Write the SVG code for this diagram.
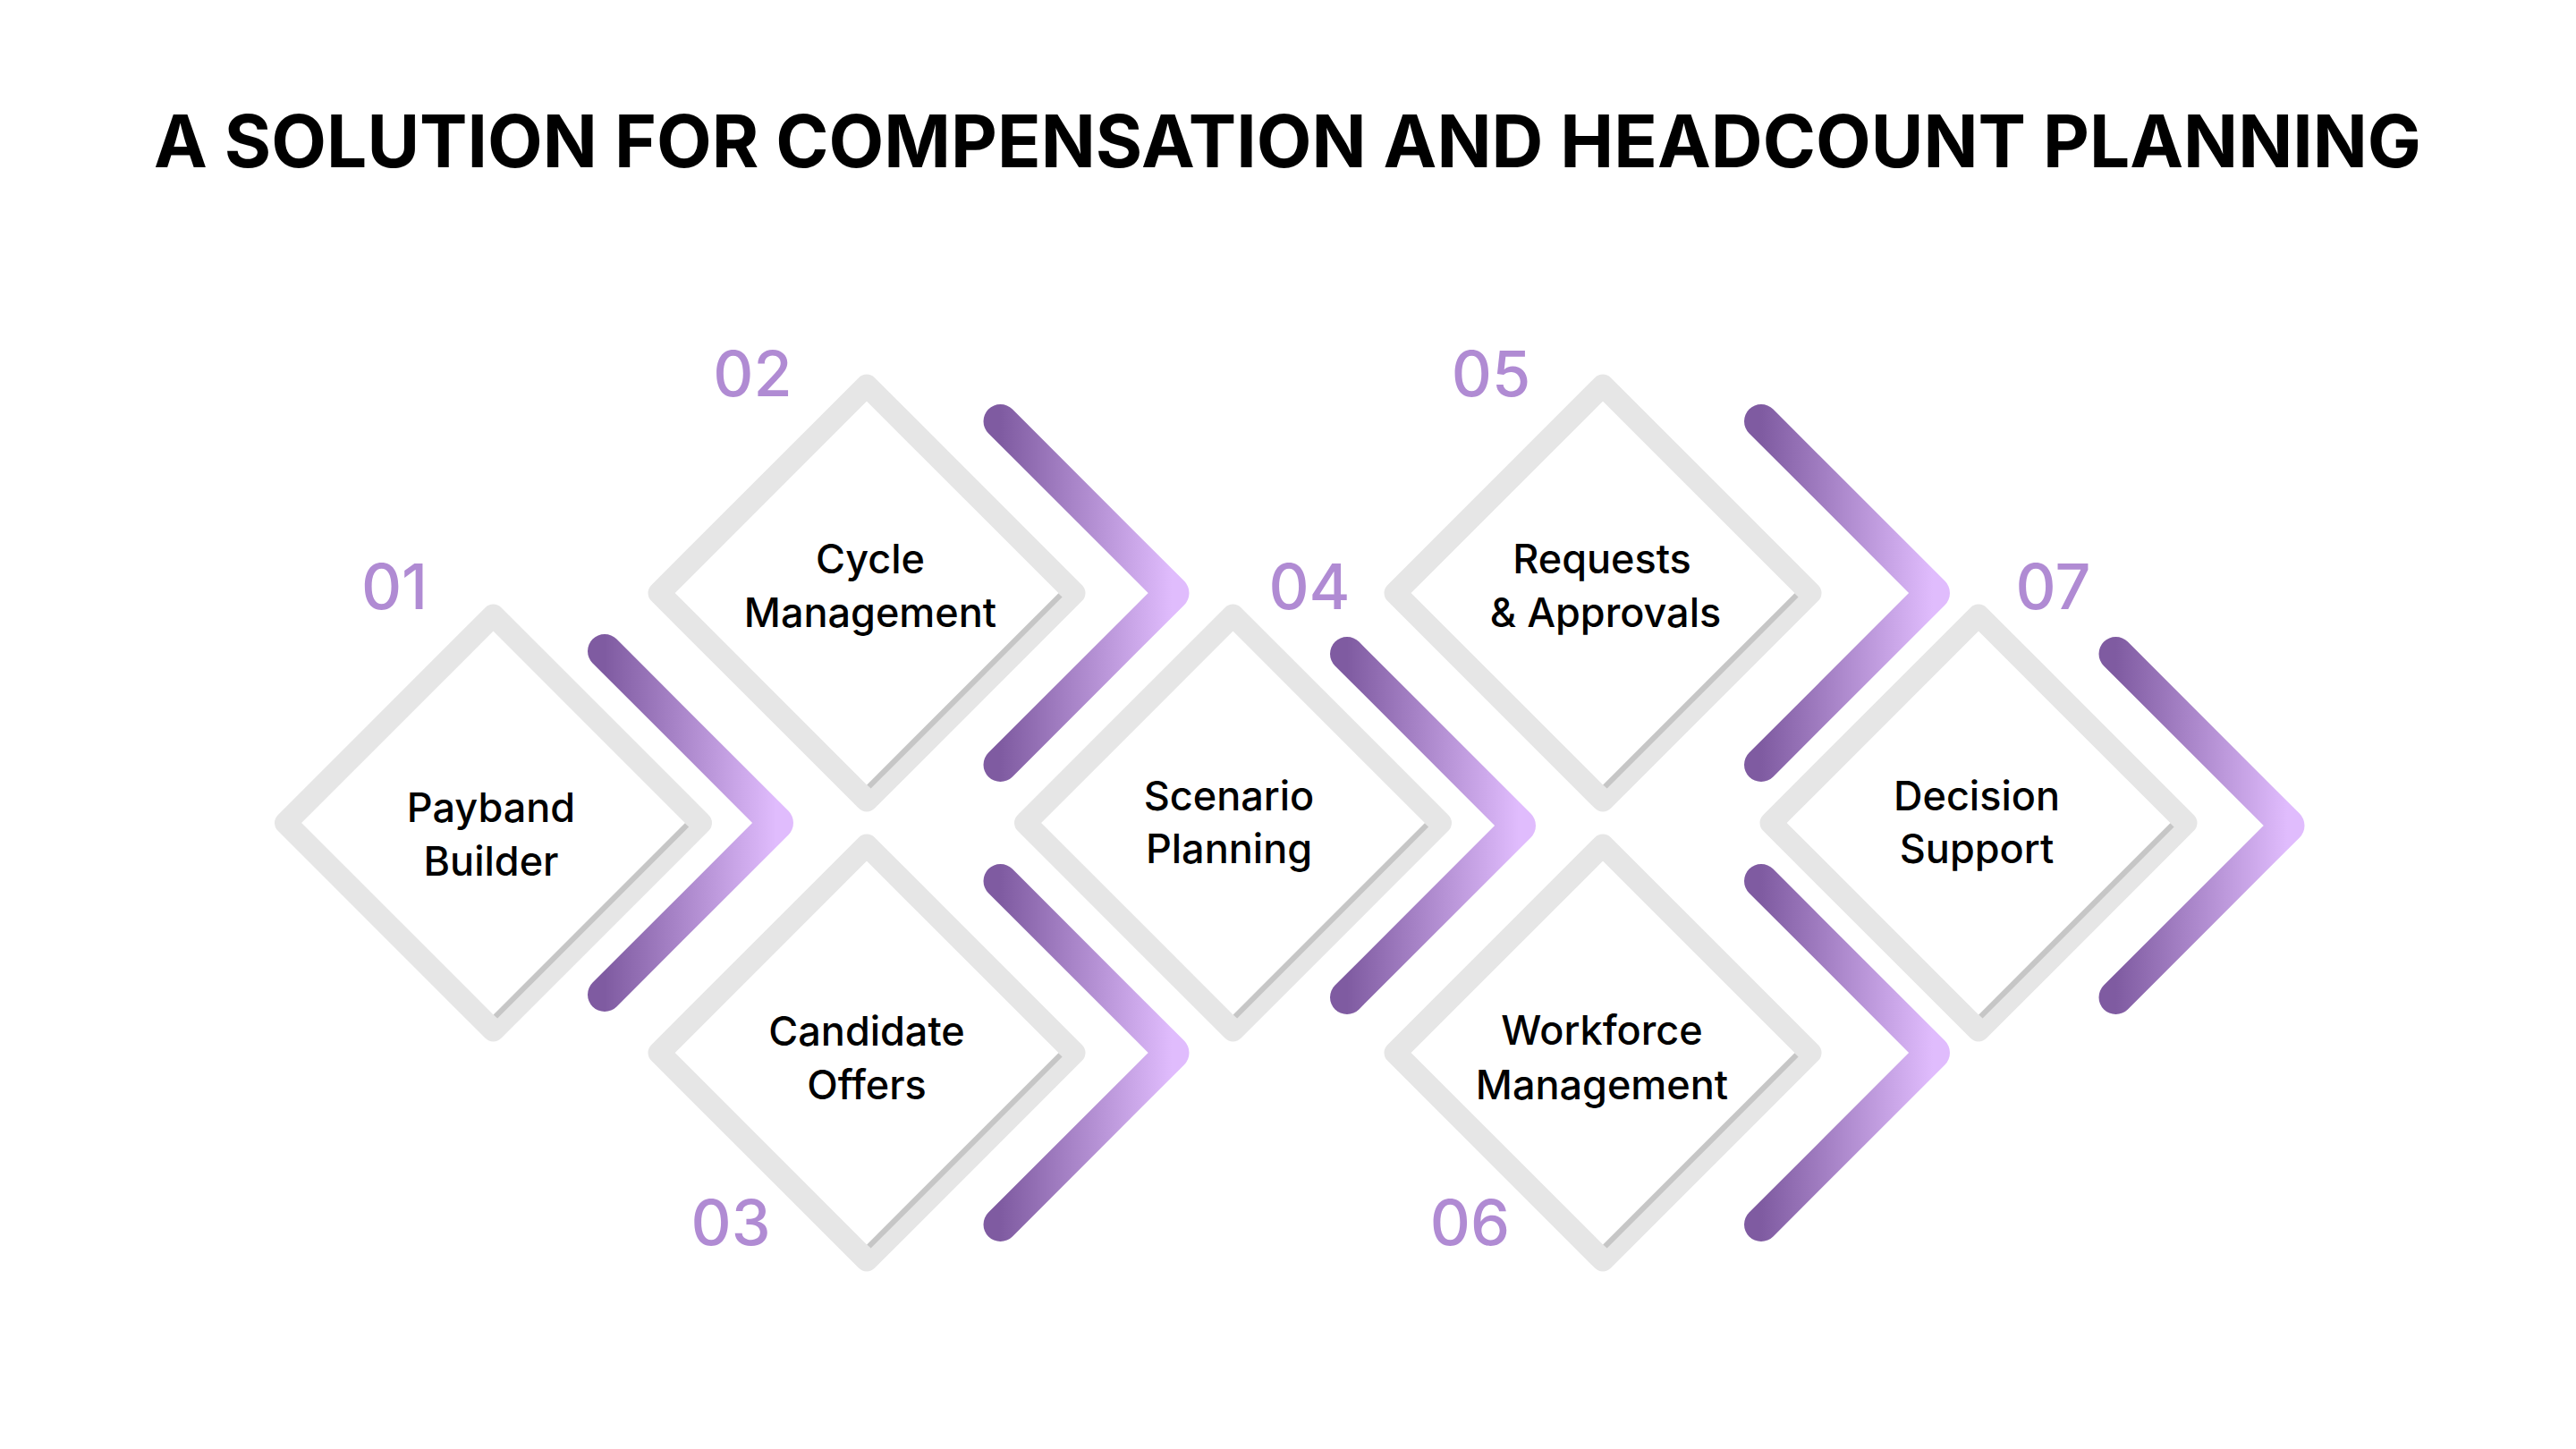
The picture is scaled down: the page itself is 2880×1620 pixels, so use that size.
<svg xmlns="http://www.w3.org/2000/svg" xmlns:xlink="http://www.w3.org/1999/xlink" width="2880" height="1620" viewBox="0 0 2880 1620">
  <defs>
    <style>
      .title { font-family: Inter, "Liberation Sans", sans-serif; font-weight: 700; font-size: 81px; fill: #000000; }
      .lbl { font-family: Inter, "Liberation Sans", sans-serif; font-weight: 500; font-size: 45px; fill: #000000; text-anchor: middle; }
      .num { font-family: Inter, "Liberation Sans", sans-serif; font-weight: 500; font-size: 70px; fill: #b08bd3; text-anchor: middle; }
      .frame { fill: #ffffff; stroke: #e6e6e6; stroke-width: 25; stroke-linejoin: round; }
      .shade { stroke: #c6c6c6; stroke-width: 6; fill: none; }
      .chev { fill: none; stroke: url(#purple); stroke-width: 38; stroke-linecap: round; stroke-linejoin: round; }
    </style>
    <linearGradient id="purple" x1="0" y1="0" x2="1" y2="0">
      <stop offset="0" stop-color="#7f5ba1"/>
      <stop offset="1" stop-color="#e0bcfd"/>
    </linearGradient>
    <g id="dia">
      <path class="frame" d="M0,-232 L232,0 L0,232 L-232,0 Z"/>
      <path class="shade" d="M216.5,2.5 L2.5,216.5"/>
    </g>
    <path id="chevron" class="chev" d="M-192,-192 L0,0 L-192,192"/>
  </defs>

  <rect x="0" y="0" width="2880" height="1620" fill="#ffffff"/>

  <text class="title" x="172" y="187" textLength="2535" lengthAdjust="spacingAndGlyphs">A SOLUTION FOR COMPENSATION AND HEADCOUNT PLANNING</text>

  <g id="connectors">
    <use xlink:href="#chevron" href="#chevron" x="868" y="920"/>
    <use xlink:href="#chevron" href="#chevron" x="1310.5" y="663"/>
    <use xlink:href="#chevron" href="#chevron" x="1310.5" y="1177"/>
    <use xlink:href="#chevron" href="#chevron" x="1698" y="923"/>
    <use xlink:href="#chevron" href="#chevron" x="2161" y="663"/>
    <use xlink:href="#chevron" href="#chevron" x="2161" y="1177"/>
    <use xlink:href="#chevron" href="#chevron" x="2557.5" y="923"/>
  </g>

  <g id="node-01">
    <use xlink:href="#dia" href="#dia" x="551.5" y="920"/>
    <text class="num" x="441" y="681">01</text>
    <text class="lbl" x="549" y="919">Payband</text>
    <text class="lbl" x="549" y="979">Builder</text>
  </g>

  <g id="node-02">
    <use xlink:href="#dia" href="#dia" x="969" y="663"/>
    <text class="num" x="841.5" y="443">02</text>
    <text class="lbl" x="973" y="641">Cycle</text>
    <text class="lbl" x="973" y="701">Management</text>
  </g>

  <g id="node-03">
    <use xlink:href="#dia" href="#dia" x="969" y="1177"/>
    <text class="num" x="817" y="1392">03</text>
    <text class="lbl" x="969" y="1169">Candidate</text>
    <text class="lbl" x="969" y="1229">Offers</text>
  </g>

  <g id="node-04">
    <use xlink:href="#dia" href="#dia" x="1378.5" y="920"/>
    <text class="num" x="1464" y="681">04</text>
    <text class="lbl" x="1374" y="906">Scenario</text>
    <text class="lbl" x="1374" y="965">Planning</text>
  </g>

  <g id="node-05">
    <use xlink:href="#dia" href="#dia" x="1792" y="663"/>
    <text class="num" x="1667" y="443">05</text>
    <text class="lbl" x="1791" y="641">Requests</text>
    <text class="lbl" x="1795" y="701">&amp; Approvals</text>
  </g>

  <g id="node-06">
    <use xlink:href="#dia" href="#dia" x="1792" y="1177"/>
    <text class="num" x="1643.5" y="1392">06</text>
    <text class="lbl" x="1791" y="1168">Workforce</text>
    <text class="lbl" x="1791" y="1229">Management</text>
  </g>

  <g id="node-07">
    <use xlink:href="#dia" href="#dia" x="2212" y="920"/>
    <text class="num" x="2295.5" y="681">07</text>
    <text class="lbl" x="2210" y="906">Decision</text>
    <text class="lbl" x="2210" y="965">Support</text>
  </g>
</svg>
